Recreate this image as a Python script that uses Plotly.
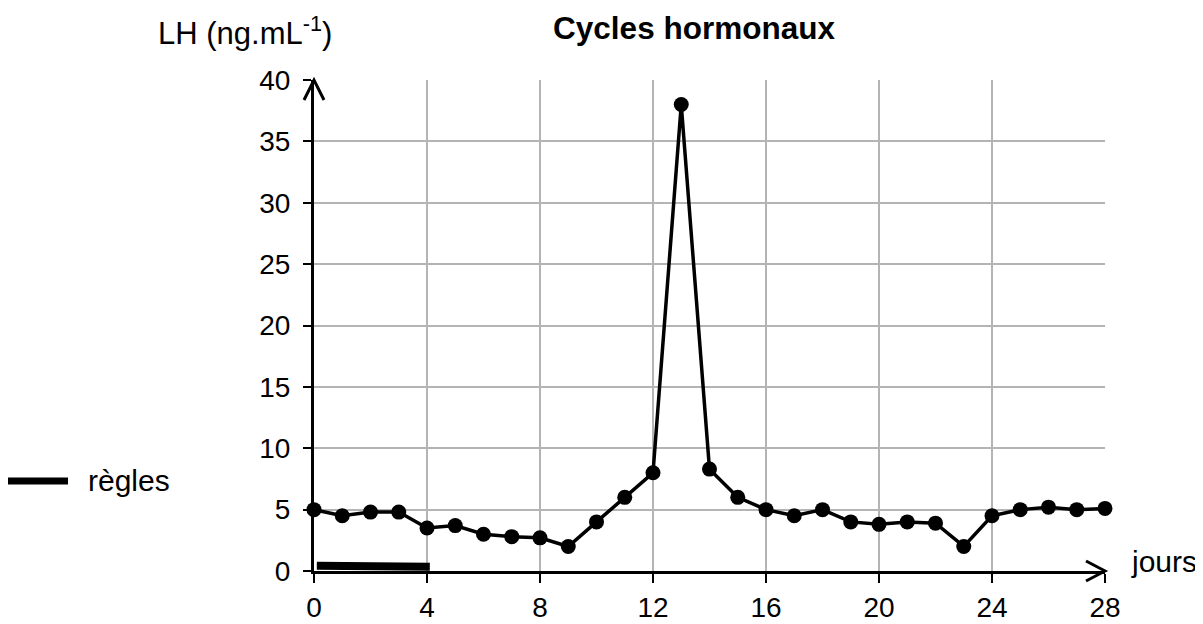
import plotly.graph_objects as go

# Data
jours = list(range(0, 29))
lh = [5.0, 4.5, 4.8, 4.8, 3.5, 3.7, 3.0, 2.8, 2.7, 2.0,
      4.0, 6.0, 8.0, 38.0, 8.3, 6.0, 5.0, 4.5, 5.0, 4.0,
      3.8, 4.0, 3.9, 2.0, 4.5, 5.0, 5.2, 5.0, 5.1]
regles_x = [0.1, 4.1]
regles_y = [0.42, 0.35]
x_ticks = [0, 4, 8, 12, 16, 20, 24, 28]
y_ticks = [0, 5, 10, 15, 20, 25, 30, 35, 40]

FONT = "Liberation Sans, Arial, sans-serif"
FS = 30
TFS = 28
PW, PH = 791, 491  # plot area size in px

fig = go.Figure()
fig.add_trace(go.Scatter(
    x=regles_x, y=regles_y, mode="lines",
    line=dict(color="black", width=8), cliponaxis=False,
    showlegend=False, hoverinfo="skip"))
fig.add_trace(go.Scatter(
    x=jours, y=lh, mode="lines+markers",
    line=dict(color="black", width=3.5),
    marker=dict(color="black", size=15),
    cliponaxis=False, showlegend=False))

# axis arrows (paper-referenced so they are not clipped)
fig.add_shape(type="path", xref="paper", yref="paper", xsizemode="pixel", ysizemode="pixel",
              xanchor=0, yanchor=1, path="M-10,-20 L0,0 L10,-20",
              line=dict(color="black", width=3))
fig.add_shape(type="path", xref="paper", yref="paper", xsizemode="pixel", ysizemode="pixel",
              xanchor=1, yanchor=0, path="M-19,10 L0,0 L-19,-10",
              line=dict(color="black", width=3))

# legend
fig.add_shape(type="line", xref="paper", yref="paper", xsizemode="pixel", ysizemode="pixel",
              xanchor=0, yanchor=0, x0=-306, x1=-246, y0=90, y1=90,
              line=dict(color="black", width=7))
fig.add_annotation(text="règles", xref="paper", yref="paper", x=-228 / PW, y=91 / PH,
                   xanchor="left", yanchor="middle", showarrow=False,
                   font=dict(family=FONT, size=FS, color="black"))

fig.add_annotation(text="LH (ng.mL<sup>-1</sup>)", xref="paper", yref="paper",
                   x=-158 / PW, y=(571 - 31) / PH, xanchor="left", yanchor="middle",
                   showarrow=False, font=dict(family=FONT, size=31, color="black"))
fig.add_annotation(text="jours", xref="paper", yref="paper",
                   x=1 + 24 / PW, y=10 / PH, xanchor="left", yanchor="middle",
                   showarrow=False, font=dict(family=FONT, size=FS, color="black"))

fig.update_layout(
    width=1195, height=616,
    margin=dict(l=306, r=98, t=72, b=53, autoexpand=False),
    paper_bgcolor="white", plot_bgcolor="white",
    title=dict(text="<b>Cycles hormonaux</b>", xref="paper", x=(694 - 314) / PW,
               xanchor="center", yref="container", y=1 - 20 / 616, yanchor="middle",
               font=dict(family=FONT, size=31.5, color="black")),
    font=dict(family=FONT, size=TFS, color="black"),
    xaxis=dict(range=[0, 28], tickvals=x_ticks, ticktext=[str(v) for v in x_ticks],
               showgrid=True, gridcolor="#b4b4b4", gridwidth=2,
               showline=True, linecolor="black", linewidth=3,
               ticks="outside", ticklen=9, tickwidth=2, tickcolor="black",
               tickfont=dict(family=FONT, size=TFS, color="black"),
               automargin=False,
               zeroline=False, layer="below traces", fixedrange=True),
    yaxis=dict(range=[0, 40], tickvals=y_ticks, ticktext=[str(v) for v in y_ticks],
               showgrid=True, gridcolor="#b4b4b4", gridwidth=2,
               showline=True, linecolor="black", linewidth=3,
               ticks="outside", ticklen=8, tickwidth=2, tickcolor="black",
               ticklabelstandoff=7, automargin=False,
               tickfont=dict(family=FONT, size=TFS, color="black"),
               zeroline=False, layer="below traces", fixedrange=True),
)

fig.write_html("out.html")
